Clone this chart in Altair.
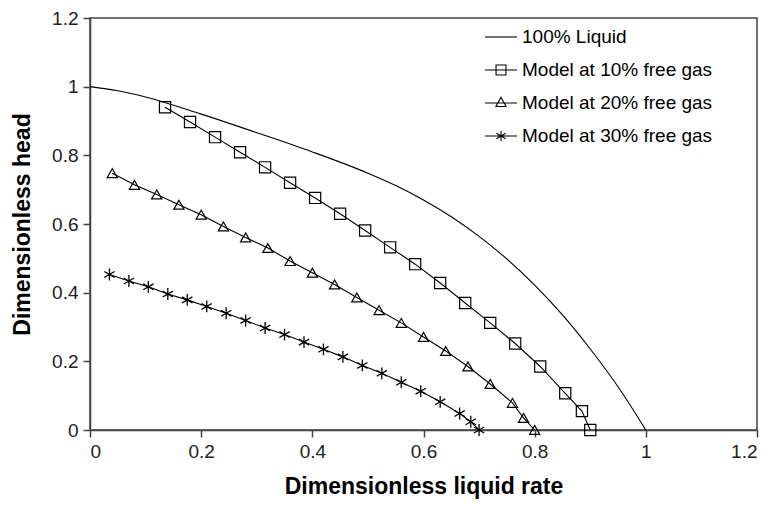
import altair as alt
import pandas as pd

# 100% liquid curve
liq_x = [0.0, 0.05, 0.1, 0.2, 0.3, 0.4, 0.5, 0.55, 0.6, 0.65, 0.7, 0.75, 0.8, 0.85, 0.9, 0.95, 1.0]
liq_y = [1.0, 0.988, 0.97, 0.92, 0.866, 0.81, 0.748, 0.712, 0.670, 0.621, 0.564, 0.498, 0.422, 0.335, 0.236, 0.126, 0.0]

# Model at 10% free gas
g10_x = [0.135, 0.18, 0.225, 0.27, 0.315, 0.36, 0.405, 0.45, 0.495, 0.54, 0.585, 0.63, 0.675, 0.72, 0.765, 0.81, 0.855, 0.885, 0.9]
g10_y = [0.94, 0.897, 0.853, 0.809, 0.765, 0.72, 0.676, 0.63, 0.581, 0.532, 0.483, 0.428, 0.37, 0.312, 0.252, 0.185, 0.107, 0.055, 0.0]

# Model at 20% free gas
g20_x = [0.04, 0.08, 0.12, 0.16, 0.20, 0.24, 0.28, 0.32, 0.36, 0.40, 0.44, 0.48, 0.52, 0.56, 0.60, 0.64, 0.68, 0.72, 0.76, 0.78, 0.80]
g20_y = [0.748, 0.714, 0.686, 0.656, 0.627, 0.593, 0.561, 0.530, 0.492, 0.458, 0.424, 0.386, 0.349, 0.312, 0.271, 0.230, 0.185, 0.134, 0.079, 0.035, 0.0]

# Model at 30% free gas
g30_x = [0.035, 0.07, 0.105, 0.14, 0.175, 0.21, 0.245, 0.28, 0.315, 0.35, 0.385, 0.42, 0.455, 0.49, 0.525, 0.56, 0.595, 0.63, 0.665, 0.685, 0.70]
g30_y = [0.453, 0.434, 0.417, 0.396, 0.379, 0.360, 0.340, 0.319, 0.297, 0.278, 0.256, 0.235, 0.213, 0.188, 0.165, 0.139, 0.113, 0.082, 0.048, 0.024, 0.0]

series_names = ["100% Liquid", "Model at 10% free gas", "Model at 20% free gas", "Model at 30% free gas"]
tick_vals = [0, 0.2, 0.4, 0.6, 0.8, 1.0, 1.2]

rows = []
for name, xs, ys in zip(series_names, [liq_x, g10_x, g20_x, g30_x], [liq_y, g10_y, g20_y, g30_y]):
    for a, b in zip(xs, ys):
        rows.append({"series": name, "x": a, "y": b})
df = pd.DataFrame(rows)

xenc = alt.X("x:Q", scale=alt.Scale(domain=[0, 1.2], nice=False),
             axis=alt.Axis(values=tick_vals, format=".1~f", title="Dimensionless liquid rate"))
yenc = alt.Y("y:Q", scale=alt.Scale(domain=[0, 1.2], nice=False),
             axis=alt.Axis(values=tick_vals, format=".1~f", title="Dimensionless head"))

base = alt.Chart(df)

liquid_line = base.transform_filter(alt.datum.series == series_names[0]).mark_line(
    color="black", strokeWidth=1.1, interpolate="monotone").encode(x=xenc, y=yenc)

model_lines = base.transform_filter(alt.datum.series != series_names[0]).mark_line(
    color="black", strokeWidth=1.1).encode(x=xenc, y=yenc, detail="series:N")

star_path = "M0,-1V1M-0.87,-0.5L0.87,0.5M-0.87,0.5L0.87,-0.5"

sq = base.transform_filter(alt.datum.series == series_names[1]).mark_point(
    shape="square", filled=False, color="black", size=125, strokeWidth=1.2, opacity=1).encode(x=xenc, y=yenc)
tri = base.transform_filter(alt.datum.series == series_names[2]).mark_point(
    shape="triangle-up", filled=False, color="black", size=105, strokeWidth=1.2, opacity=1).encode(x=xenc, y=yenc)
star = base.transform_filter(alt.datum.series == series_names[3]).mark_point(
    shape=star_path, filled=False, color="black", size=140, strokeWidth=1.3, opacity=1).encode(x=xenc, y=yenc)

legend_paths = [
    "M-1,0H1",
    "M-1,0H1M-0.31,-0.31H0.31V0.31H-0.31Z",
    "M-1,0H1M0,-0.36L0.32,0.22H-0.32Z",
    "M-1,0H1M0,-0.33V0.33M-0.29,-0.17L0.29,0.17M-0.29,0.17L0.29,-0.17",
]

legend_layer = base.mark_point(filled=False, opacity=0, size=1).encode(
    x=xenc, y=yenc,
    shape=alt.Shape("series:N",
                    scale=alt.Scale(domain=series_names, range=legend_paths),
                    legend=alt.Legend(title=None, orient="none", legendX=394, legendY=2,
                                      symbolSize=1024, symbolStrokeWidth=1.1,
                                      symbolStrokeColor="black", symbolFillColor="transparent",
                                      symbolOpacity=1, labelFontSize=19, labelFont="Liberation Sans",
                                      labelColor="black", labelOffset=4, rowPadding=6, padding=0,
                                      labelLimit=400)))

chart = alt.layer(liquid_line, model_lines, sq, tri, star, legend_layer).properties(
    width=667, height=412,
    autosize=alt.AutoSizeParams(type="none"),
    padding={"left": 82, "top": 10, "right": 10, "bottom": 70},
).configure_view(
    stroke="#444", strokeWidth=1.5
).configure_axis(
    grid=False, domainColor="#444", domainWidth=1.5, tickColor="#444", tickWidth=1.5,
    tickSize=7, labelFont="Liberation Sans", labelFontSize=19, labelColor="#222",
    titleFont="Liberation Sans", titleFontSize=23, titleFontWeight="bold", titleColor="black",
    labelPadding=5
).configure_axisX(titlePadding=14).configure_axisY(titlePadding=17)

chart.save("out.html", embed_options={"renderer": "svg", "actions": False})
